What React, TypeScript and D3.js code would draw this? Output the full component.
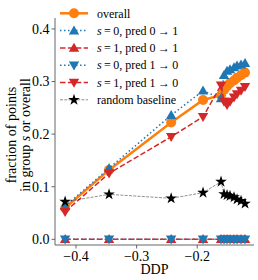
import React from "react";
import * as d3 from "d3";

const ddp = [-0.418, -0.3455, -0.243, -0.1904, -0.1607, -0.1558, -0.1508, -0.1459, -0.1393, -0.1343, -0.1277, -0.1211];
const overall = [0.0595, 0.132, 0.222, 0.265, 0.274, 0.284, 0.291, 0.297, 0.302, 0.307, 0.312, 0.317];
const s0pred01 = [0.063, 0.135, 0.236, 0.2825, 0.268, 0.312, 0.32, 0.323, 0.327, 0.33, 0.332, 0.335];
const s1pred01 = [0, 0, 0, 0, 0, 0, 0, 0, 0, 0, 0, 0];
const s0pred10 = [0, 0, 0, 0, 0, 0, 0, 0, 0, 0, 0, 0];
const s1pred10 = [0.0525, 0.1255, 0.195, 0.233, 0.293, 0.262, 0.256, 0.262, 0.27, 0.276, 0.283, 0.29];
const randomBaseline = [0.0715, 0.0855, 0.078, 0.0886, 0.1095, 0.086, 0.084, 0.0825, 0.08, 0.076, 0.073, 0.068];
const xTicks = [-0.4, -0.3, -0.2];
const yTicks = [0.0, 0.1, 0.2, 0.3, 0.4];

const W = 258, H = 280;
const L = 55, R = 254, T = 18, B = 245;
const FONT = "'Liberation Serif'";

type Series = {
  key: string;
  values: number[];
  color: string;
  width: number;
  dash?: string;
  marker: "circle" | "up" | "down" | "star";
  opacity?: number;
};

const series: Series[] = [
  { key: "overall", values: overall, color: "#ff7f0e", width: 2.5, marker: "circle" },
  { key: "s0_01", values: s0pred01, color: "#1f77b4", width: 1.5, dash: "1.5,2.5", marker: "up" },
  { key: "s1_01", values: s1pred01, color: "#d62728", width: 1.5, dash: "5.5,2.4", marker: "up" },
  { key: "s0_10", values: s0pred10, color: "#1f77b4", width: 1.5, dash: "1.5,2.5", marker: "down" },
  { key: "s1_10", values: s1pred10, color: "#d62728", width: 1.5, dash: "5.5,2.4", marker: "down" },
  { key: "rand", values: randomBaseline, color: "#000", width: 0.8, dash: "3,1.3", marker: "star", opacity: 0.55 },
];

function Marker({ type, x, y, color }: { type: string; x: number; y: number; color: string }) {
  if (type === "circle") return <circle cx={x} cy={y} r={5} fill={color} />;
  if (type === "up")
    return <path d={`M${x},${y - 5.2} L${x + 5.2},${y + 3.8} L${x - 5.2},${y + 3.8} Z`} fill={color} />;
  if (type === "down")
    return <path d={`M${x},${y + 5.2} L${x + 5.2},${y - 3.8} L${x - 5.2},${y - 3.8} Z`} fill={color} />;
  const star = d3.symbol().type(d3.symbolStar).size(42)();
  return <path d={star || ""} transform={`translate(${x},${y})`} fill="#000" />;
}

export default function App() {
  const x = d3.scaleLinear().domain([-0.4347, -0.1063]).range([L, R]);
  const y = d3.scaleLinear().domain([-0.0108, 0.4208]).range([B, T]);
  const line = d3.line<number>().x((_, i) => x(ddp[i])).y((d) => y(d));

  const ts = "\u2009";
  const legendItems: { s: Series; label: React.ReactNode }[] = [
    { s: series[0], label: "overall" },
    { s: series[1], label: <><tspan fontStyle="italic">s</tspan>{`${ts}=${ts}0, pred 0${ts}→${ts}1`}</> },
    { s: series[2], label: <><tspan fontStyle="italic">s</tspan>{`${ts}=${ts}1, pred 0${ts}→${ts}1`}</> },
    { s: series[3], label: <><tspan fontStyle="italic">s</tspan>{`${ts}=${ts}0, pred 1${ts}→${ts}0`}</> },
    { s: series[4], label: <><tspan fontStyle="italic">s</tspan>{`${ts}=${ts}1, pred 1${ts}→${ts}0`}</> },
    { s: series[5], label: "random baseline" },
  ];

  return (
    <svg width={W} height={H} style={{ position: "absolute", left: 0, top: 0, background: "#fff" }} fontFamily={FONT}>
      <rect width={W} height={H} fill="#fff" />
      {series.map((s) => (
        <g key={s.key}>
          <path d={line(s.values) || ""} fill="none" stroke={s.color} strokeWidth={s.width}
            strokeDasharray={s.dash} strokeOpacity={s.opacity ?? 1} />
          {s.values.map((v, i) => (
            <Marker key={i} type={s.marker} x={x(ddp[i])} y={y(v)} color={s.color} />
          ))}
        </g>
      ))}
      <line x1={L} x2={L} y1={T} y2={B} stroke="#555" strokeWidth={0.9} />
      <line x1={L} x2={R} y1={B} y2={B} stroke="#555" strokeWidth={0.9} />
      {yTicks.map((t) => (
        <g key={t}>
          <line x1={L - 3.5} x2={L} y1={y(t)} y2={y(t)} stroke="#555" strokeWidth={0.9} />
          <text fontFamily={FONT} x={L - 5.5} y={y(t)} dy="0.35em" textAnchor="end" fontSize={14}>{t.toFixed(1)}</text>
        </g>
      ))}
      {xTicks.map((t) => (
        <g key={t}>
          <line x1={x(t)} x2={x(t)} y1={B} y2={B + 3.5} stroke="#555" strokeWidth={0.9} />
          <text fontFamily={FONT} x={x(t)} y={B + 16} textAnchor="middle" fontSize={14}>{"−" + Math.abs(t).toFixed(1)}</text>
        </g>
      ))}
      <text fontFamily={FONT} x={(L + R) / 2} y={274} textAnchor="middle" fontSize={14}>DDP</text>
      <text fontFamily={FONT} transform={`translate(16,135) rotate(-90)`} textAnchor="middle" fontSize={14}>fraction of points</text>
      <text fontFamily={FONT} transform={`translate(30,135) rotate(-90)`} textAnchor="middle" fontSize={14}>
        in group <tspan fontStyle="italic">s</tspan> or overall
      </text>
      {legendItems.map((it, i) => {
        const ly = 13.3 + i * 17.3;
        return (
          <g key={i}>
            <line x1={60} x2={88} y1={ly} y2={ly} stroke={it.s.color} strokeWidth={it.s.width}
              strokeDasharray={it.s.dash} strokeOpacity={it.s.opacity ?? 1} />
            <Marker type={it.s.marker} x={74} y={ly} color={it.s.color} />
            <text fontFamily={FONT} x={97} y={ly} dy="0.35em" fontSize={12}>{it.label}</text>
          </g>
        );
      })}
    </svg>
  );
}
